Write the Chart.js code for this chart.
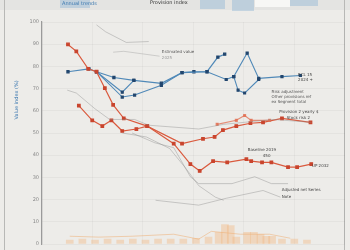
<!DOCTYPE html>
<html>
<head>
<meta charset="utf-8">
<script src="https://cdn.jsdelivr.net/npm/chart.js@4.4.1/dist/chart.umd.min.js"></script>
<style>
  html, body { margin: 0; padding: 0; background: #edece9; }
  #wrap { width: 350px; height: 250px; }
</style>
</head>
<body>
<div id="wrap"><canvas id="trendChart" width="350" height="250"></canvas></div>
<script>
// x is a shared 0-100 position, y is value 0-100
var redAX = [0.3, 3.6, 8.3, 11.6, 14.9, 18.2, 22.4, 31.7, 42.2, 48.8, 52.5, 57.8, 63.4, 71.0, 72.9, 77.2, 80.9, 87.5, 91.1, 96.7];
var redAY = [89.9, 86.8, 78.9, 77.6, 70.2, 62.7, 56.6, 53.1, 45.2, 36.0, 32.9, 37.3, 36.8, 38.2, 37.3, 36.8, 36.8, 34.6, 34.6, 36.0];

var redBX = [4.6, 9.9, 13.9, 17.5, 21.8, 27.4, 31.7, 45.5, 53.8, 58.4, 61.7, 67.0, 72.6, 77.6, 85.1, 96.4];
var redBY = [62.3, 55.7, 53.1, 55.7, 50.9, 51.8, 53.1, 45.2, 47.4, 48.2, 51.3, 53.1, 54.4, 54.8, 56.6, 54.8];

var redCX = [59.4, 67.0, 70.3, 72.9, 80.2];
var redCY = [53.9, 55.7, 57.9, 55.7, 55.7];

var blueAX = [0.3, 8.6, 11.6, 18.5, 26.4, 37.3, 45.5, 50.2, 55.4, 59.7, 62.4];
var blueAY = [77.6, 78.9, 77.6, 75.0, 73.7, 72.4, 77.2, 77.6, 77.6, 84.2, 85.5];

var blueBX = [11.6, 21.8, 26.7, 37.3, 45.5, 55.4, 63.0, 66.0, 71.3, 75.9, 85.1, 92.4];
var blueBY = [77.6, 66.2, 67.1, 71.5, 77.2, 77.6, 74.1, 75.4, 86.0, 74.6, 75.4, 75.9];

var blueCX = [11.6, 21.8, 26.4, 40, 66.0, 67.7, 70.3, 75.9];
var blueCY = [77.6, 68.4, 73.7, null, 75.4, 69.3, 68.0, 74.1];

var grayAX = [11.6, 15.2, 23.4, 32.3];
var grayAY = [98.7, 95.6, 90.8, 91.2];
var grayBX = [18.2, 22.4, 36.6];
var grayBY = [86.4, 86.8, 84.6];
var grayCX = [0, 3.6, 10.9, 16.8, 26.7, 32.3, 52.1, 62.0, 81.8, 96.7];
var grayCY = [69.3, 68.0, 61.0, 56.1, 56.1, 53.5, 51.8, 53.9, 56.1, 54.8];
var grayDX = [25.7, 34.7, 42.2, 48.8, 52.1, 65.3, 74.3, 80.9, 87.5];
var grayDY = [50.0, 45.6, 43.4, 30.3, 27.2, 27.2, 30.3, 27.2, 27.2];
var grayEX = [21.8, 31.4, 40.6, 46.9, 52.1, 58.7, 62.0];
var grayEY = [50.0, 48.2, 43.0, 34.2, 26.3, 21.1, 19.7];
var grayFX = [35.0, 52.1, 63.0, 77.6, 84.5];
var grayFY = [19.7, 17.5, 20.6, 24.1, 21.1];

var barX = [1, 6, 11, 16, 21, 26, 31, 36, 41, 46, 51, 56, 60, 62.5, 64.8, 67, 71.3, 74, 76.6, 78.9, 81.2, 85.1, 90, 95];
var barY = [1.8, 2.2, 1.8, 2.2, 1.8, 2.2, 1.8, 2.2, 2.2, 2.2, 2.6, 3.1, 5.3, 8.8, 8.3, 3.1, 5.3, 5.3, 4.4, 3.5, 3.5, 2.2, 2.2, 1.8];
var orangeLineX = [1, 12.5, 25.7, 42.2, 52.1, 57.1, 68.6, 80.2, 88.4];
var orangeLineY = [3.5, 3.1, 3.5, 4.4, 2.2, 5.7, 4.4, 4.4, 2.6];

var yTicks = ["0", "10", "20", "30", "40", "50", "60", "70", "80", "90", "100"];

function pts(xs, ys) {
  return xs.map(function (x, i) { return { x: x, y: ys[i] }; });
}

function lineSet(xs, ys, color, width, radius, pointColor) {
  return {
    type: "line",
    data: pts(xs, ys),
    borderColor: color,
    borderWidth: width,
    pointRadius: radius,
    pointStyle: "rect",
    pointBackgroundColor: pointColor || color,
    pointBorderColor: pointColor || color,
    tension: 0,
    spanGaps: false,
  };
}

// decoration and loose notes
var notes = [
  { x: 37.5, y: 86.3, text: "Estimated value", color: "#555" },
  { x: 37.5, y: 84.0, text: "2025", color: "#999" },
  { x: 91.5, y: 76.2, text: "ECL 15", color: "#444" },
  { x: 91.5, y: 73.8, text: "2024 +", color: "#444" },
  { x: 81.0, y: 68.4, text: "Risk adjustment", color: "#555" },
  { x: 81.0, y: 66.2, text: "Other provisions ref", color: "#555" },
  { x: 81.0, y: 64.0, text: "ex Segment total", color: "#555" },
  { x: 84.0, y: 59.7, text: "Provision 2 yearly $", color: "#444" },
  { x: 87.0, y: 57.0, text: "Stock risk 2", color: "#444" },
  { x: 71.5, y: 42.5, text: "Baseline 2019", color: "#444" },
  { x: 77.5, y: 39.5, text: "450", color: "#444" },
  { x: 97.0, y: 35.0, text: "UP 2032", color: "#444" },
  { x: 85.0, y: 24.5, text: "Adjusted net Series", color: "#444" },
  { x: 85.0, y: 21.0, text: "Note", color: "#444" },
];

var decorPlugin = {
  id: "decor",
  beforeDraw: function (chart) {
    var c = chart.ctx;
    c.save();
    c.fillStyle = "#edece9";
    c.fillRect(0, 0, chart.width, chart.height);
    c.fillStyle = "#e4e4e2";
    c.fillRect(0, 0, 350, 10);
    c.fillStyle = "rgba(120,170,210,0.35)";
    c.fillRect(60, 0, 30, 8);
    c.fillRect(200, 0, 25, 9);
    c.fillRect(232, 0, 22, 11);
    c.fillRect(290, 0, 28, 6);
    c.fillStyle = "#f7f7f5";
    c.fillRect(255, 0, 35, 7);
    c.strokeStyle = "#b8b8b6";
    c.lineWidth = 1;
    c.beginPath();
    c.moveTo(4.5, 0); c.lineTo(4.5, 250);
    c.moveTo(344.5, 0); c.lineTo(344.5, 250);
    c.stroke();
    c.restore();
  },
  afterDraw: function (chart) {
    var c = chart.ctx;
    var xs = chart.scales.x, ys = chart.scales.y;
    c.save();
    c.font = "4px 'DejaVu Sans'";
    c.textBaseline = "middle";
    notes.forEach(function (n) {
      c.fillStyle = n.color;
      c.fillText(n.text, xs.getPixelForValue(n.x), ys.getPixelForValue(n.y));
    });
    c.font = "5px 'DejaVu Sans'";
    c.fillStyle = "#3b78b0";
    c.fillText("Annual trends", 62, 4);
    c.fillStyle = "#333";
    c.fillText("Provision index", 150, 3);
    // rotated y title
    c.translate(17, 100);
    c.rotate(-Math.PI / 2);
    c.textAlign = "center";
    c.font = "5px 'DejaVu Sans'";
    c.fillStyle = "#3b78b0";
    c.fillText("Value index (%)", 0, 0);
    c.restore();
  },
};

var ctx = document.getElementById("trendChart").getContext("2d");
var trendChart = new Chart(ctx, {
  type: "line",
  data: {
    datasets: [
      {
        type: "bar",
        data: pts(barX, barY),
        backgroundColor: "rgba(243,178,120,0.38)",
        borderWidth: 0,
        barThickness: 7,
      },
      lineSet(orangeLineX, orangeLineY, "rgba(240,160,90,0.55)", 0.8, 0),
      lineSet(grayAX, grayAY, "rgba(140,140,140,0.6)", 0.7, 0),
      lineSet(grayBX, grayBY, "rgba(150,150,150,0.55)", 0.7, 0),
      lineSet(grayCX, grayCY, "rgba(140,140,140,0.6)", 0.7, 0),
      lineSet(grayDX, grayDY, "rgba(140,140,140,0.6)", 0.7, 0),
      lineSet(grayEX, grayEY, "rgba(140,140,140,0.6)", 0.7, 0),
      lineSet(grayFX, grayFY, "rgba(140,140,140,0.6)", 0.7, 0),
      lineSet(redCX, redCY, "rgba(225,110,80,0.75)", 1.1, 1.4),
      lineSet(redBX, redBY, "#da5a3e", 1.2, 1.8, "#c9452e"),
      lineSet(redAX, redAY, "#da5a3e", 1.2, 1.8, "#c9452e"),
      lineSet(blueCX, blueCY, "#5089b8", 1.1, 1.4, "#22466e"),
      lineSet(blueBX, blueBY, "#5089b8", 1.1, 1.5, "#22466e"),
      lineSet(blueAX, blueAY, "#5089b8", 1.2, 1.5, "#22466e"),
    ],
  },
  options: {
    responsive: false,
    animation: false,
    layout: { padding: { left: 4, right: 5, top: 22, bottom: 0 } },
    plugins: { legend: { display: false }, tooltip: { enabled: false } },
    scales: {
      x: {
        type: "linear",
        min: 0,
        max: 100,
        ticks: { display: false },
        grid: { color: "rgba(0,0,0,0.03)", drawTicks: false },
        border: { display: false },
      },
      y: {
        min: 0,
        max: 100,
        afterFit: function (s) { s.width = 38; },
        ticks: {
          stepSize: 10,
          font: { size: 5, family: "DejaVu Sans" },
          color: "#888",
          padding: 3,
          callback: function (v, i) { return yTicks[i]; },
        },
        grid: { color: "rgba(0,0,0,0.035)", drawTicks: false },
        border: { color: "#9a9a9a", width: 1.2 },
      },
    },
  },
  plugins: [decorPlugin],
});
</script>
</body>
</html>
